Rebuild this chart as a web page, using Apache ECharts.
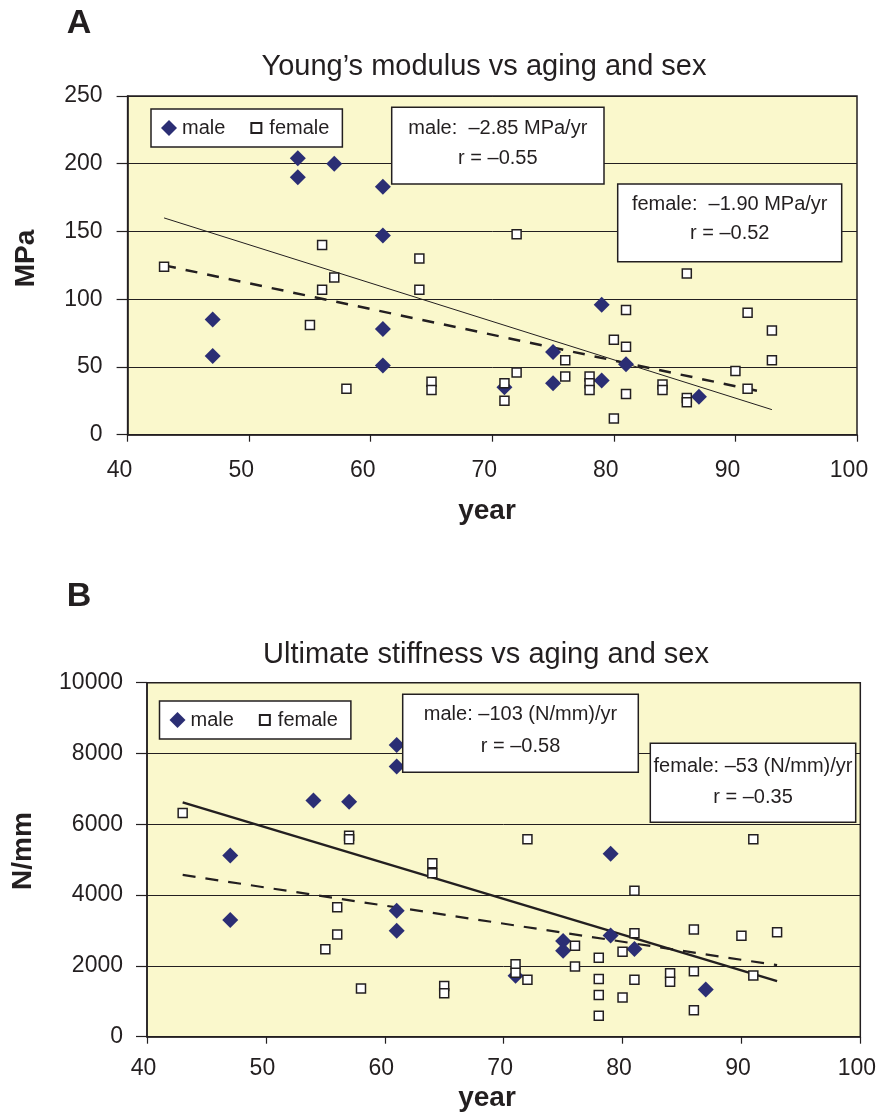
<!DOCTYPE html>
<html><head><meta charset="utf-8">
<script src="https://cdn.jsdelivr.net/npm/echarts@6/dist/echarts.min.js"></script>
<style>html,body{margin:0;padding:0;background:#fff}#c{width:879px;height:1115px}</style>
</head><body><div id="c"></div>
<script>
// ---- tick values ----
const xTicks = [40, 50, 60, 70, 80, 90, 100];
const topYTicks = [0, 50, 100, 150, 200, 250];
const botYTicks = [0, 2000, 4000, 6000, 8000, 10000];

// ---- Panel A: Young's modulus (MPa) ----
const topMaleAge = [54, 54, 57, 61, 61, 47, 47, 61, 61, 79, 75, 75, 79, 81, 87, 71];
const topMaleMPa = [204, 190, 200, 183, 147, 85, 58, 78, 51, 96, 61, 38, 40, 52, 28, 35];
const topFemaleAge = [43, 56, 56, 57, 55, 58, 64, 64, 65, 65, 72, 72, 86, 81, 81, 81, 91, 91, 93, 93, 80, 80, 76, 76, 90, 78, 78, 78, 71, 71, 84, 84, 86, 86];
const topFemaleMPa = [124, 140, 107, 116, 81, 34, 130, 107, 39, 33, 148, 46, 119, 92, 65, 30, 90, 34, 77, 55, 70, 12, 55, 43, 47, 43, 38, 33, 38, 25, 37, 33, 27, 24];
const topMaleTrendAge = [43, 93];
const topMaleTrendMPa = [160, 18.5];
const topFemaleTrendAge = [43, 92];
const topFemaleTrendMPa = [125, 32];

// ---- Panel B: Ultimate stiffness (N/mm) ----
const botMaleAge = [61, 61, 54, 57, 47, 47, 61, 61, 79, 79, 75, 75, 81, 71, 87];
const botMaleNmm = [8240, 7630, 6670, 6640, 5120, 3300, 3560, 2990, 5170, 2860, 2700, 2430, 2480, 1720, 1330];
const botFemaleAge = [43, 57, 57, 64, 64, 56, 56, 55, 58, 65, 65, 72, 91, 81, 81, 86, 90, 93, 76, 80, 78, 76, 71, 71, 72, 78, 81, 84, 84, 86, 91, 78, 80, 86, 78];
const botFemaleNmm = [6320, 5680, 5580, 4900, 4620, 3660, 2890, 2470, 1360, 1430, 1230, 5580, 5580, 4120, 2920, 3030, 2850, 2950, 2570, 2400, 2230, 1980, 2050, 1810, 1610, 1630, 1610, 1790, 1550, 1850, 1730, 1180, 1110, 750, 590];
const botMaleTrendAge = [43, 93];
const botMaleTrendNmm = [6620, 1570];
const botFemaleTrendAge = [43, 93];
const botFemaleTrendNmm = [4570, 2020];

// ---- texts ----
const titleA = "Young\u2019s modulus vs aging and sex";
const titleB = "Ultimate stiffness vs aging and sex";
const boxTopMale = ["male:  \u20132.85 MPa/yr", "r = \u20130.55"];
const boxTopFemale = ["female:  \u20131.90 MPa/yr", "r = \u20130.52"];
const boxBotMale = ["male: \u2013103 (N/mm)/yr", "r = \u20130.58"];
const boxBotFemale = ["female: \u201353 (N/mm)/yr", "r = \u20130.35"];

const zip = (a, b) => a.map((v, i) => [v, b[i]]);
const FONT = "'Liberation Sans', Arial, Helvetica, sans-serif";
const INK = '#231F20';
const BG = '#FAF8CC';
const NAVY = '#2B2E74';

function xAxisCfg(gi, margin, shift) {
  return {
    type: 'value', gridIndex: gi,
    min: xTicks[0], max: xTicks[xTicks.length - 1], interval: xTicks[1] - xTicks[0],
    axisLine: { show: true, lineStyle: { color: INK, width: 1.5 } },
    axisTick: { show: true, inside: false, length: 7, lineStyle: { color: INK, width: 1.2 } },
    splitLine: { show: false },
    axisLabel: { color: INK, fontSize: 23, fontFamily: FONT, margin: margin, padding: [0, shift, 0, 0] }
  };
}
function yAxisCfg(gi, ticks, margin) {
  return {
    type: 'value', gridIndex: gi,
    min: ticks[0], max: ticks[ticks.length - 1], interval: ticks[1] - ticks[0],
    axisLine: { show: true, lineStyle: { color: INK, width: 1.5 } },
    axisTick: { show: true, inside: false, length: 11, lineStyle: { color: INK, width: 1.2 } },
    splitLine: { show: true, lineStyle: { color: INK, width: 1 } },
    axisLabel: { color: INK, fontSize: 23, fontFamily: FONT, margin: margin, formatter: (v) => String(v) }
  };
}
function txt(x, y, s, size, bold, extra) {
  return Object.assign({
    type: 'text', x: x, y: y, z: 120,
    style: {
      text: s, fill: INK, font: (bold ? 'bold ' : '') + size + 'px ' + FONT,
      align: 'center', verticalAlign: 'middle', textAlign: 'center', textVerticalAlign: 'middle'
    }
  }, extra || {});
}
function box(x, y, w, h, lines, lineGap, firstY) {
  return [
    { type: 'rect', z: 110, shape: { x: x, y: y, width: w, height: h },
      style: { fill: '#fff', stroke: INK, lineWidth: 1.5 } },
    txt(x + w / 2, firstY, lines[0], 20, false),
    txt(x + w / 2, firstY + lineGap, lines[1], 20, false)
  ];
}

const femaleIcon = 'path://M0,0M16,16M3,3L13,3L13,13L3,13Z';
function legendCfg(left, top) {
  return {
    left: left, top: top, orient: 'horizontal',
    itemWidth: 16, itemHeight: 16, itemGap: 22,
    padding: [9, 13, 9, 10],
    borderColor: INK, borderWidth: 1.5, backgroundColor: '#fff',
    textStyle: { color: INK, fontSize: 20, fontFamily: FONT },
    data: [{ name: 'male', icon: 'diamond' }, { name: 'female', icon: femaleIcon }],
    selectedMode: false
  };
}

const maleStyle = { color: NAVY, opacity: 1 };
const femaleStyle = { color: '#fff', borderColor: INK, borderWidth: 1.5, opacity: 1 };

const option = {
  backgroundColor: '#fff',
  animation: false,
  textStyle: { fontFamily: FONT },
  grid: [
    { left: 127.6, top: 96, width: 729.4, height: 338.7, show: true, backgroundColor: BG, borderColor: INK, borderWidth: 1.5 },
    { left: 147, top: 682.7, width: 718.5, height: 354, show: true, backgroundColor: BG, borderColor: INK, borderWidth: 1.5 }
  ],
  xAxis: [xAxisCfg(0, 24, 16), xAxisCfg(1, 20, 7)],
  yAxis: [yAxisCfg(0, topYTicks, 25), yAxisCfg(1, botYTicks, 24)],
  legend: [legendCfg(151, 109), legendCfg(159.5, 701)],
  series: [
    { name: 'male trend A', type: 'line', xAxisIndex: 0, yAxisIndex: 0, data: zip(topMaleTrendAge, topMaleTrendMPa),
      symbol: 'none', lineStyle: { color: INK, width: 1 }, z: 2 },
    { name: 'female trend A', type: 'line', xAxisIndex: 0, yAxisIndex: 0, data: zip(topFemaleTrendAge, topFemaleTrendMPa),
      symbol: 'none', lineStyle: { color: INK, width: 2.5, type: [12, 10] }, z: 2 },
    { name: 'male', type: 'scatter', xAxisIndex: 0, yAxisIndex: 0, data: zip(topMaleAge, topMaleMPa),
      symbol: 'diamond', symbolSize: 16, itemStyle: maleStyle, z: 3 },
    { name: 'female', type: 'scatter', xAxisIndex: 0, yAxisIndex: 0, data: zip(topFemaleAge, topFemaleMPa),
      symbol: 'rect', symbolSize: 9, itemStyle: femaleStyle, z: 3 },

    { name: 'male trend B', type: 'line', xAxisIndex: 1, yAxisIndex: 1, data: zip(botMaleTrendAge, botMaleTrendNmm),
      symbol: 'none', lineStyle: { color: INK, width: 2.5 }, z: 2 },
    { name: 'female trend B', type: 'line', xAxisIndex: 1, yAxisIndex: 1, data: zip(botFemaleTrendAge, botFemaleTrendNmm),
      symbol: 'none', lineStyle: { color: INK, width: 2.2, type: [13, 10] }, z: 2 },
    { name: 'male', type: 'scatter', xAxisIndex: 1, yAxisIndex: 1, data: zip(botMaleAge, botMaleNmm),
      symbol: 'diamond', symbolSize: 16, itemStyle: maleStyle, z: 3 },
    { name: 'female', type: 'scatter', xAxisIndex: 1, yAxisIndex: 1, data: zip(botFemaleAge, botFemaleNmm),
      symbol: 'rect', symbolSize: 9, itemStyle: femaleStyle, z: 3 }
  ],
  graphic: [].concat(
    [
      txt(79, 24, 'A', 34, true),
      txt(484, 67, titleA, 29, false),
      txt(26, 258.5, 'MPa', 28, true, { rotation: Math.PI / 2 }),
      txt(487, 511, 'year', 28, true),

      txt(79, 597, 'B', 34, true),
      txt(486, 655, titleB, 29, false),
      txt(23, 851, 'N/mm', 28, true, { rotation: Math.PI / 2 }),
      txt(487, 1098, 'year', 28, true)
    ],
    box(391.7, 107.3, 212.3, 76.7, boxTopMale, 30, 128),
    box(617.7, 184, 224, 77.7, boxTopFemale, 29, 204.7),
    box(402.7, 694.3, 235.6, 78, boxBotMale, 31.6, 714.7),
    box(650.3, 743.3, 205.4, 79, boxBotFemale, 30.7, 766.3)
  )
};

const chart = echarts.init(document.getElementById('c'), null, { renderer: 'canvas' });
chart.setOption(option);
</script>
</body></html>
